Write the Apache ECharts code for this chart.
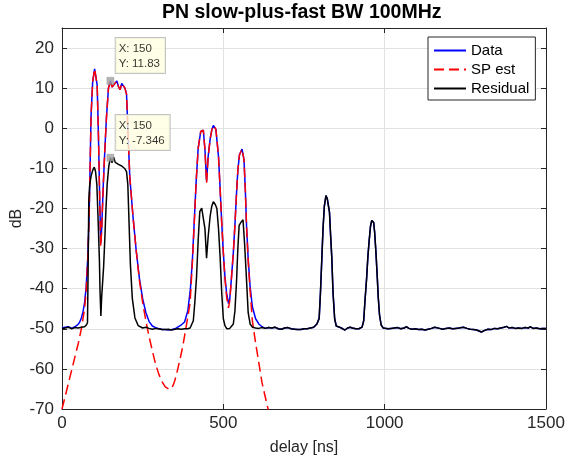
<!DOCTYPE html>
<html>
<head>
<meta charset="utf-8">
<script src="https://cdn.jsdelivr.net/npm/echarts@6/dist/echarts.min.js"></script>
<style>html,body{margin:0;padding:0;background:#fff}#c{width:566px;height:455px}</style>
</head>
<body>
<div id="c"></div>
<script>
// ---- values ----
const titleText = 'PN slow-plus-fast BW 100MHz';
const xAxisName = 'delay [ns]';
const yAxisName = 'dB';
const seriesNames = ['Data', 'SP est', 'Residual'];

const dataX = [0,10,20,30,40,50,55,60,65,70,75,80,84,87,90,95,101,105,109,113,117,120,123,128,133,138,144,150,155,160,165,170,175,180,185,190,195,200,205,210,220,230,240,250,260,270,280,290,300,310,320,330,340,350,360,370,380,390,398,404,410,416,422,430,438,443,448,453,459,464,469,477,485,490,495,500,505,510,516,520,525,531,536,541,545,550,558,564,568,572,577,583,590,600,610,620,630,640];
const dataY = [-49.8,-49.6,-49.5,-49.9,-49.5,-48.9,-48.3,-47.3,-45.8,-43.5,-39.5,-32,-22,-10,3,11.5,14.8,12.8,10.8,-2,-18,-28.8,-25,-14,-5,3,10,11.83,10.3,10.1,11.3,11.8,10.4,9.6,11.2,11.1,10,8.5,-2,-12,-22,-30.5,-37.5,-42.5,-46,-48.2,-49.3,-49.7,-50,-50.2,-50.2,-50.3,-50.2,-50,-49.5,-49,-48.3,-45.5,-40,-33,-23,-13,-5,-0.8,-0.5,-5.3,-13.2,-7,-2.8,-0.5,0.7,-0.3,-7,-15,-23.6,-31,-37,-41,-43.7,-42.5,-37.5,-31,-24,-16,-10.5,-6.6,-5.2,-7.8,-15,-24.5,-32.5,-39.5,-44.5,-47.5,-48.8,-49.5,-49.9,-49.7];

const spX = [0,10,20,30,40,50,60,65,70,75,80,84,87,90,95,101,105,109,113,117,120,123,128,133,138,144,150,155,160,165,170,175,180,185,190,195,200,205,210,220,230,240,250,260,270,280,290,300,310,320,330,338,345,350,358,366,374,382,390,397,404,410,416,422,430,438,443,448,453,459,464,469,477,485,490,495,500,505,510,516,520,525,531,536,541,545,550,558,564,568,572,577,583,590,600,610,620,630,640];
const spY = [-70,-66.8,-63.5,-60.3,-57,-53.8,-50,-47.5,-45,-40.5,-32.5,-22,-10,3,11.5,14.8,12.8,10.8,-2,-18.5,-29.5,-25.5,-14,-5,3,10,11.83,10.3,10.1,11.3,11.8,10.4,9.6,11.2,11.1,10,8.5,-2,-12,-22,-30.5,-38,-43.5,-48,-52,-55.5,-58.8,-61.3,-63.2,-64.5,-65,-65,-64,-62.8,-60.3,-57.5,-54.5,-50.8,-47,-43.5,-33.5,-23.5,-13,-5,-0.8,-0.5,-5.3,-13.8,-7,-2.8,-0.5,0.7,-0.3,-7,-15,-23.6,-31,-37.5,-42,-44.8,-43,-37.5,-31,-24,-16,-10.5,-6.6,-5.2,-7.8,-15,-24.5,-33,-40.5,-48,-53.5,-58.5,-63.5,-67,-70.5];

const resX = [0,10,20,30,40,50,60,70,76,79,81,83,86,90,95,100,104,108,112,116,118,120.5,123,129,133,136,140,145,150,155,160,165,170,175,180,185,190,195,200,204,208,212,218,226,236,250,260,270,280,290,300,310,320,330,340,350,360,370,380,390,397,403,407,412,417,422,427,433,438,443,448,453,459,464,469,475,480,485,490,495,500,505,511,520,526,531,536,541,545,549,555,561,566,572,577,583,590,600,610,620,630,640];
const resY = [-50,-49.8,-49.6,-50,-49.7,-49.8,-49.6,-49.5,-49,-48.5,-35,-18,-14,-12,-10.5,-9.7,-10.8,-14,-23,-33,-41,-46.8,-42,-34.5,-27,-20.5,-14,-9.5,-7.346,-8.6,-7.2,-8.5,-8.4,-9,-8.7,-9.4,-9.5,-10.1,-10.8,-14,-24,-34,-42.5,-47.3,-49.2,-49.8,-49.6,-49.9,-50.1,-49.9,-50,-50.2,-50.2,-50.1,-50.3,-50.1,-50,-50.1,-50,-50,-49.8,-49.4,-48,-43,-37,-28,-20.8,-19.9,-20.2,-25,-32.4,-27,-22,-19.5,-18.3,-19,-20,-25,-32,-41,-47.5,-49.2,-50,-49.9,-49.7,-48.8,-45.5,-38,-30,-24.2,-23.4,-22.8,-29,-38,-46,-48.8,-49.6,-49.8,-49.9,-49.7,-49.9,-49.7];

// shared tail (Data == Residual beyond the SP estimate)
const tailX = [650,660,670,680,690,700,710,720,730,740,750,760,770,780,790,797,801,805,809,813,818,822,826,829,832,836,840,845,850,860,870,877,885,893,900,910,920,930,935,939,944,948,952,956,960,966,969,973,977,980,984,989,995,1000,1010,1020,1030,1040,1050,1060,1068,1075,1085,1095,1105,1115,1125,1135,1145,1155,1161,1170,1180,1190,1200,1210,1220,1230,1244,1255,1265,1275,1285,1300,1310,1320,1330,1340,1350,1360,1370,1378,1385,1395,1405,1415,1425,1435,1445,1452,1460,1470,1480,1490,1500];
const tailY = [-49.8,-49.6,-50,-50.1,-49.8,-49.7,-50,-50.1,-50.2,-50.2,-50,-50,-49.8,-49.6,-48.8,-47.4,-41,-33,-25,-19.5,-16.8,-17.5,-19.5,-21,-26,-32,-41,-47.5,-49.3,-49.6,-50,-50.3,-49.8,-49.6,-49.8,-50,-50,-49.6,-48,-43,-37.5,-32,-28,-24.5,-23,-23.5,-26,-31,-37,-42,-46.5,-49,-49.8,-50,-50,-49.9,-49.8,-49.7,-50,-49.8,-49.5,-49.9,-50.1,-50,-50.2,-50.1,-50.3,-50.1,-49.9,-49.6,-49.5,-49.9,-50.1,-49.9,-49.8,-50,-49.9,-49.8,-49.6,-49.9,-50.1,-50.2,-50.3,-50.8,-50.4,-50.1,-50.2,-49.9,-50,-49.8,-49.6,-49.4,-49.8,-49.7,-49.9,-49.8,-49.9,-49.7,-49.8,-49.5,-49.9,-49.8,-50,-49.9,-49.9];

// data tips
const tipX = [150, 150];
const tipY = [11.83, -7.346];
const tipText = ['11.83', '-7.346'];

// axis ticks
const xMin = 0, xMax = 1500, xStep = 500;
const yMin = -70, yMax = 25, yStep = 10;

// ---- build ----
const zip = (xs, ys) => xs.map((x, i) => [x, ys[i]]);
const tail = zip(tailX, tailY);
const dataPts = zip(dataX, dataY).concat(tail);
const spPts = zip(spX, spY);
const resPts = zip(resX, resY).concat(tail);
const tipPts = tipX.map((x, i) => ({ value: [x, tipY[i]], txt: 'X: ' + x + '\nY: ' + tipText[i] }));

const FONT = 'Liberation Sans, Arial, Helvetica, sans-serif';
const AX = '#262626';
const GRIDC = '#e2e2e2';

const chart = echarts.init(document.getElementById('c'), null, { renderer: 'canvas' });

const baseX = {
  type: 'value', min: xMin, max: xMax, interval: xStep,
  axisLine: { show: true, onZero: false, lineStyle: { color: AX, width: 1 } },
  axisTick: { show: true, inside: true, length: 5, lineStyle: { color: AX, width: 1 } }
};
const baseY = {
  type: 'value', min: yMin, max: yMax, interval: yStep,
  axisLine: { show: true, onZero: false, lineStyle: { color: AX, width: 1 } },
  axisTick: { show: true, inside: true, length: 5, lineStyle: { color: AX, width: 1 } }
};

chart.setOption({
  animation: false,
  backgroundColor: '#fff',
  title: {
    text: titleText, left: 162, top: 3, padding: 0,
    textStyle: { fontFamily: FONT, fontSize: 19.5, fontWeight: 'bold', color: '#000' }
  },
  grid: { left: 62, right: 20, top: 28, bottom: 46, containLabel: false, outerBoundsMode: 'none' },
  legend: {
    data: seriesNames,
    orient: 'vertical', left: 428, top: 37,
    padding: [6, 6, 4, 5], itemGap: 4, itemWidth: 32, itemHeight: 15,
    borderColor: AX, borderWidth: 1, backgroundColor: '#fff',
    itemStyle: { color: 'rgba(0,0,0,0)', borderColor: 'rgba(0,0,0,0)', borderWidth: 0, opacity: 0 },
    textStyle: { fontFamily: FONT, fontSize: 15, color: '#000' },
    selectedMode: false
  },
  xAxis: [
    Object.assign({}, baseX, {
      position: 'bottom',
      axisLabel: { show: true, fontFamily: FONT, fontSize: 17, color: AX, margin: 6, formatter: v => String(v) },
      splitLine: { show: true, lineStyle: { color: GRIDC, width: 1 } },
      name: xAxisName, nameLocation: 'middle', nameGap: 31, nameMoveOverlap: false,
      nameTextStyle: { fontFamily: FONT, fontSize: 16, color: AX }
    }),
    Object.assign({}, baseX, {
      position: 'top',
      axisLabel: { show: false }, splitLine: { show: false }
    })
  ],
  yAxis: [
    Object.assign({}, baseY, {
      position: 'left',
      axisLabel: { show: true, fontFamily: FONT, fontSize: 17, color: AX, margin: 8, showMaxLabel: false, formatter: v => String(v) },
      splitLine: { show: true, lineStyle: { color: GRIDC, width: 1 } },
      name: yAxisName, nameLocation: 'middle', nameGap: 37, nameMoveOverlap: false,
      nameTextStyle: { fontFamily: FONT, fontSize: 16, color: AX }
    }),
    Object.assign({}, baseY, {
      position: 'right',
      axisLabel: { show: false }, splitLine: { show: false }
    })
  ],
  series: [
    {
      name: seriesNames[0], type: 'line', data: dataPts, xAxisIndex: 0, yAxisIndex: 0,
      showSymbol: false, symbol: 'none', smooth: false, clip: true, z: 2,
      lineStyle: { color: '#0000ff', width: 1.5 }, itemStyle: { color: '#0000ff' }
    },
    {
      name: seriesNames[1], type: 'line', data: spPts, xAxisIndex: 0, yAxisIndex: 0,
      showSymbol: false, symbol: 'none', smooth: false, clip: true, z: 3,
      lineStyle: { color: '#ff0000', width: 1.5, type: [10, 5] }, itemStyle: { color: '#ff0000' }
    },
    {
      name: seriesNames[2], type: 'line', data: resPts, xAxisIndex: 0, yAxisIndex: 0,
      showSymbol: false, symbol: 'none', smooth: false, clip: true, z: 4,
      lineStyle: { color: '#000000', width: 1.5 }, itemStyle: { color: '#000000' }
    },
    {
      name: 'tips', type: 'scatter', data: tipPts, xAxisIndex: 0, yAxisIndex: 0,
      symbol: 'rect', symbolSize: 7, z: 10, silent: true,
      itemStyle: { color: '#a0a0a0', borderColor: '#8c8c8c', borderWidth: 0.5 },
      label: {
        show: true, position: [9, -39],
        formatter: p => p.data.txt,
        fontFamily: FONT, fontSize: 11.5, lineHeight: 15, color: '#000',
        backgroundColor: '#ffffe1', borderColor: '#b4b4b4', borderWidth: 1,
        padding: [3, 5, 2, 3], align: 'left', verticalAlign: 'top'
      }
    }
  ]
});
</script>
</body>
</html>
